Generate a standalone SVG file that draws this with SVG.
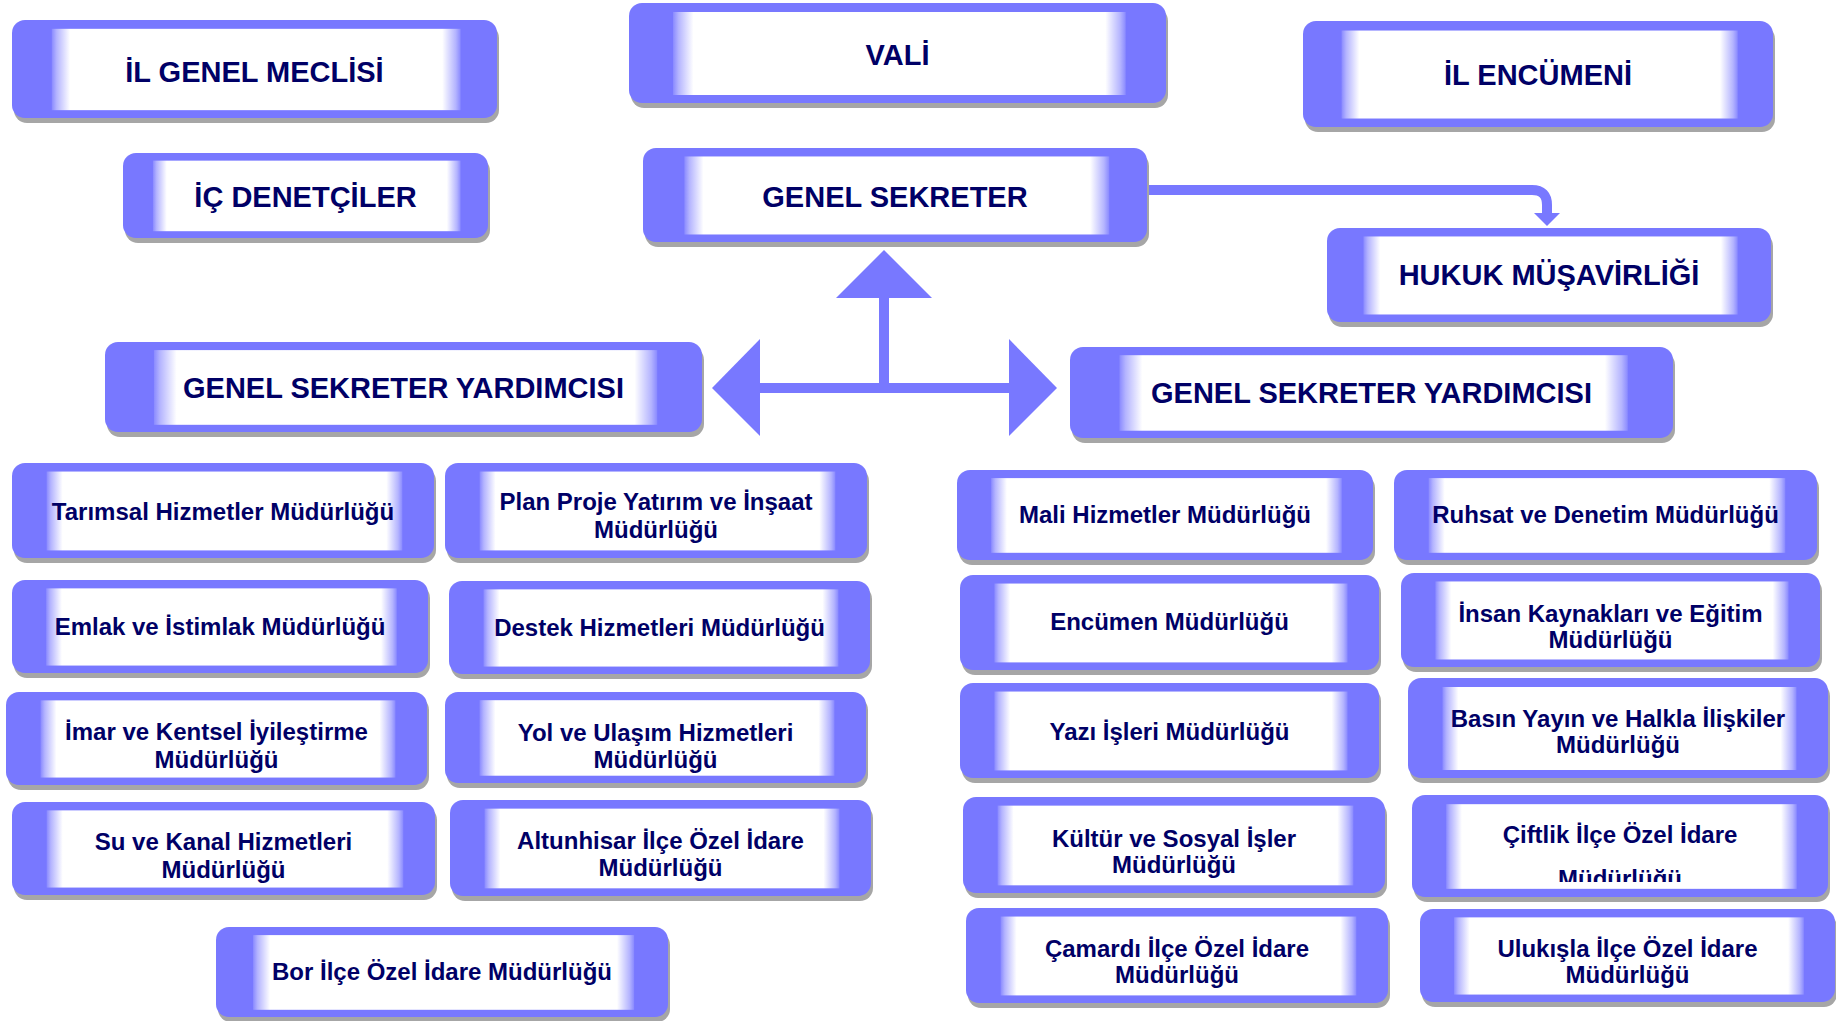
<svg xmlns="http://www.w3.org/2000/svg" width="1836" height="1021" viewBox="0 0 1836 1021">
<defs>
<style>
.sh{fill:#a6a6a6}
.bx{fill:#7878ff}
.in{fill:url(#wg)}
text{font-family:"Liberation Sans",Arial,sans-serif;font-weight:bold;fill:#000066;text-anchor:middle}
.t1{font-size:29px}
.t2{font-size:24px}
.conn{fill:#7878ff}
</style>
<linearGradient id="wg" x1="0" y1="0" x2="1" y2="0">
<stop offset="0" stop-color="#8a8aff"/>
<stop offset="0.012" stop-color="#b4b4ff"/>
<stop offset="0.045" stop-color="#ffffff"/>
<stop offset="0.955" stop-color="#ffffff"/>
<stop offset="0.988" stop-color="#b4b4ff"/>
<stop offset="1" stop-color="#8a8aff"/>
</linearGradient>
<clipPath id="cc"><rect x="0" y="0" width="416" height="87"/></clipPath>
</defs>

<g id="connectors">
<polygon class="conn" points="884,250 932,298 836,298"/>
<rect class="conn" x="879" y="296" width="10" height="97"/>
<rect class="conn" x="758" y="383" width="253" height="10"/>
<polygon class="conn" points="712,388 760,339 760,436"/>
<polygon class="conn" points="1057,388 1009,339 1009,436"/>
<path d="M1146,190 H1532 Q1547,190 1547,205 V214" fill="none" stroke="#7878ff" stroke-width="10"/>
<polygon class="conn" points="1534,213 1560,213 1547,226"/>
</g>

<g id="il-genel-meclisi"><svg x="12" y="20" width="485" height="98" overflow="visible">
<rect class="sh" x="2" y="5" width="100%" height="100%" rx="13"/><rect class="bx" width="100%" height="100%" rx="13"/>
<rect class="in" x="8.2%" y="9%" width="84.3%" height="83%"/>
<text class="t1" x="50%" y="62">İL GENEL MECLİSİ</text></svg></g>

<g id="vali"><svg x="629" y="3" width="537" height="100" overflow="visible">
<rect class="sh" x="2" y="5" width="100%" height="100%" rx="13"/><rect class="bx" width="100%" height="100%" rx="13"/>
<rect class="in" x="8.2%" y="9%" width="84.3%" height="83%"/>
<text class="t1" x="50%" y="62">VALİ</text></svg></g>

<g id="il-encumeni"><svg x="1303" y="21" width="470" height="106" overflow="visible">
<rect class="sh" x="2" y="5" width="100%" height="100%" rx="13"/><rect class="bx" width="100%" height="100%" rx="13"/>
<rect class="in" x="8.2%" y="9%" width="84.3%" height="83%"/>
<text class="t1" x="50%" y="64">İL ENCÜMENİ</text></svg></g>

<g id="ic-denetciler"><svg x="123" y="153" width="365" height="85" overflow="visible">
<rect class="sh" x="2" y="5" width="100%" height="100%" rx="13"/><rect class="bx" width="100%" height="100%" rx="13"/>
<rect class="in" x="8.2%" y="9%" width="84.3%" height="83%"/>
<text class="t1" x="50%" y="54">İÇ DENETÇİLER</text></svg></g>

<g id="genel-sekreter"><svg x="643" y="148" width="504" height="94" overflow="visible">
<rect class="sh" x="2" y="5" width="100%" height="100%" rx="13"/><rect class="bx" width="100%" height="100%" rx="13"/>
<rect class="in" x="8.2%" y="9%" width="84.3%" height="83%"/>
<text class="t1" x="50%" y="59">GENEL SEKRETER</text></svg></g>

<g id="hukuk-musavirligi"><svg x="1327" y="228" width="444" height="94" overflow="visible">
<rect class="sh" x="2" y="5" width="100%" height="100%" rx="13"/><rect class="bx" width="100%" height="100%" rx="13"/>
<rect class="in" x="8.2%" y="9%" width="84.3%" height="83%"/>
<text class="t1" x="50%" y="57">HUKUK MÜŞAVİRLİĞİ</text></svg></g>

<g id="gsy-left"><svg x="105" y="342" width="597" height="90" overflow="visible">
<rect class="sh" x="2" y="5" width="100%" height="100%" rx="13"/><rect class="bx" width="100%" height="100%" rx="13"/>
<rect class="in" x="8.2%" y="9%" width="84.3%" height="83%"/>
<text class="t1" x="50%" y="56">GENEL SEKRETER YARDIMCISI</text></svg></g>

<g id="gsy-right"><svg x="1070" y="347" width="603" height="91" overflow="visible">
<rect class="sh" x="2" y="5" width="100%" height="100%" rx="13"/><rect class="bx" width="100%" height="100%" rx="13"/>
<rect class="in" x="8.2%" y="9%" width="84.3%" height="83%"/>
<text class="t1" x="50%" y="56">GENEL SEKRETER YARDIMCISI</text></svg></g>

<g id="tarimsal"><svg x="12" y="463" width="422" height="95" overflow="visible">
<rect class="sh" x="2" y="5" width="100%" height="100%" rx="13"/><rect class="bx" width="100%" height="100%" rx="13"/>
<rect class="in" x="8.2%" y="9%" width="84.3%" height="83%"/>
<text class="t2" x="50%" y="57">Tarımsal Hizmetler Müdürlüğü</text></svg></g>

<g id="plan-proje"><svg x="445" y="463" width="422" height="95" overflow="visible">
<rect class="sh" x="2" y="5" width="100%" height="100%" rx="13"/><rect class="bx" width="100%" height="100%" rx="13"/>
<rect class="in" x="8.2%" y="9%" width="84.3%" height="83%"/>
<text class="t2" x="50%" y="47">Plan Proje Yatırım ve İnşaat</text><text class="t2" x="50%" y="75">Müdürlüğü</text></svg></g>

<g id="emlak"><svg x="12" y="580" width="416" height="93" overflow="visible">
<rect class="sh" x="2" y="5" width="100%" height="100%" rx="13"/><rect class="bx" width="100%" height="100%" rx="13"/>
<rect class="in" x="8.2%" y="9%" width="84.3%" height="83%"/>
<text class="t2" x="50%" y="55">Emlak ve İstimlak Müdürlüğü</text></svg></g>

<g id="destek"><svg x="449" y="581" width="421" height="93" overflow="visible">
<rect class="sh" x="2" y="5" width="100%" height="100%" rx="13"/><rect class="bx" width="100%" height="100%" rx="13"/>
<rect class="in" x="8.2%" y="9%" width="84.3%" height="83%"/>
<text class="t2" x="50%" y="55">Destek Hizmetleri Müdürlüğü</text></svg></g>

<g id="imar"><svg x="6" y="692" width="421" height="93" overflow="visible">
<rect class="sh" x="2" y="5" width="100%" height="100%" rx="13"/><rect class="bx" width="100%" height="100%" rx="13"/>
<rect class="in" x="8.2%" y="9%" width="84.3%" height="83%"/>
<text class="t2" x="50%" y="48">İmar ve Kentsel İyileştirme</text><text class="t2" x="50%" y="76">Müdürlüğü</text></svg></g>

<g id="yol"><svg x="445" y="692" width="421" height="91" overflow="visible">
<rect class="sh" x="2" y="5" width="100%" height="100%" rx="13"/><rect class="bx" width="100%" height="100%" rx="13"/>
<rect class="in" x="8.2%" y="9%" width="84.3%" height="83%"/>
<text class="t2" x="50%" y="49">Yol ve Ulaşım Hizmetleri</text><text class="t2" x="50%" y="76">Müdürlüğü</text></svg></g>

<g id="su-kanal"><svg x="12" y="802" width="423" height="93" overflow="visible">
<rect class="sh" x="2" y="5" width="100%" height="100%" rx="13"/><rect class="bx" width="100%" height="100%" rx="13"/>
<rect class="in" x="8.2%" y="9%" width="84.3%" height="83%"/>
<text class="t2" x="50%" y="48">Su ve Kanal Hizmetleri</text><text class="t2" x="50%" y="76">Müdürlüğü</text></svg></g>

<g id="altunhisar"><svg x="450" y="800" width="421" height="96" overflow="visible">
<rect class="sh" x="2" y="5" width="100%" height="100%" rx="13"/><rect class="bx" width="100%" height="100%" rx="13"/>
<rect class="in" x="8.2%" y="9%" width="84.3%" height="83%"/>
<text class="t2" x="50%" y="49">Altunhisar İlçe Özel İdare</text><text class="t2" x="50%" y="76">Müdürlüğü</text></svg></g>

<g id="bor"><svg x="216" y="927" width="452" height="90" overflow="visible">
<rect class="sh" x="2" y="5" width="100%" height="100%" rx="13"/><rect class="bx" width="100%" height="100%" rx="13"/>
<rect class="in" x="8.2%" y="9%" width="84.3%" height="83%"/>
<text class="t2" x="50%" y="53">Bor İlçe Özel İdare Müdürlüğü</text></svg></g>

<g id="mali"><svg x="957" y="470" width="416" height="90" overflow="visible">
<rect class="sh" x="2" y="5" width="100%" height="100%" rx="13"/><rect class="bx" width="100%" height="100%" rx="13"/>
<rect class="in" x="8.2%" y="9%" width="84.3%" height="83%"/>
<text class="t2" x="50%" y="53">Mali Hizmetler Müdürlüğü</text></svg></g>

<g id="ruhsat"><svg x="1394" y="470" width="423" height="90" overflow="visible">
<rect class="sh" x="2" y="5" width="100%" height="100%" rx="13"/><rect class="bx" width="100%" height="100%" rx="13"/>
<rect class="in" x="8.2%" y="9%" width="84.3%" height="83%"/>
<text class="t2" x="50%" y="53">Ruhsat ve Denetim Müdürlüğü</text></svg></g>

<g id="encumen"><svg x="960" y="575" width="419" height="95" overflow="visible">
<rect class="sh" x="2" y="5" width="100%" height="100%" rx="13"/><rect class="bx" width="100%" height="100%" rx="13"/>
<rect class="in" x="8.2%" y="9%" width="84.3%" height="83%"/>
<text class="t2" x="50%" y="55">Encümen Müdürlüğü</text></svg></g>

<g id="insan-kaynaklari"><svg x="1401" y="573" width="419" height="94" overflow="visible">
<rect class="sh" x="2" y="5" width="100%" height="100%" rx="13"/><rect class="bx" width="100%" height="100%" rx="13"/>
<rect class="in" x="8.2%" y="9%" width="84.3%" height="83%"/>
<text class="t2" x="50%" y="49">İnsan Kaynakları ve Eğitim</text><text class="t2" x="50%" y="75">Müdürlüğü</text></svg></g>

<g id="yazi-isleri"><svg x="960" y="683" width="419" height="95" overflow="visible">
<rect class="sh" x="2" y="5" width="100%" height="100%" rx="13"/><rect class="bx" width="100%" height="100%" rx="13"/>
<rect class="in" x="8.2%" y="9%" width="84.3%" height="83%"/>
<text class="t2" x="50%" y="57">Yazı İşleri Müdürlüğü</text></svg></g>

<g id="basin-yayin"><svg x="1408" y="678" width="420" height="100" overflow="visible">
<rect class="sh" x="2" y="5" width="100%" height="100%" rx="13"/><rect class="bx" width="100%" height="100%" rx="13"/>
<rect class="in" x="8.2%" y="9%" width="84.3%" height="83%"/>
<text class="t2" x="50%" y="49">Basın Yayın ve Halkla İlişkiler</text><text class="t2" x="50%" y="75">Müdürlüğü</text></svg></g>

<g id="kultur"><svg x="963" y="797" width="422" height="96" overflow="visible">
<rect class="sh" x="2" y="5" width="100%" height="100%" rx="13"/><rect class="bx" width="100%" height="100%" rx="13"/>
<rect class="in" x="8.2%" y="9%" width="84.3%" height="83%"/>
<text class="t2" x="50%" y="50">Kültür ve Sosyal İşler</text><text class="t2" x="50%" y="76">Müdürlüğü</text></svg></g>

<g id="ciftlik"><svg x="1412" y="795" width="416" height="102" overflow="visible">
<rect class="sh" x="2" y="5" width="100%" height="100%" rx="13"/><rect class="bx" width="100%" height="100%" rx="13"/>
<rect class="in" x="8.2%" y="9%" width="84.3%" height="83%"/>
<text class="t2" x="50%" y="48">Çiftlik İlçe Özel İdare</text><text class="t2" x="50%" y="92" clip-path="url(#cc)">Müdürlüğü</text></svg></g>

<g id="camardi"><svg x="966" y="908" width="422" height="95" overflow="visible">
<rect class="sh" x="2" y="5" width="100%" height="100%" rx="13"/><rect class="bx" width="100%" height="100%" rx="13"/>
<rect class="in" x="8.2%" y="9%" width="84.3%" height="83%"/>
<text class="t2" x="50%" y="49">Çamardı İlçe Özel İdare</text><text class="t2" x="50%" y="75">Müdürlüğü</text></svg></g>

<g id="ulukisla"><svg x="1420" y="909" width="415" height="93" overflow="visible">
<rect class="sh" x="2" y="5" width="100%" height="100%" rx="13"/><rect class="bx" width="100%" height="100%" rx="13"/>
<rect class="in" x="8.2%" y="9%" width="84.3%" height="83%"/>
<text class="t2" x="50%" y="48">Ulukışla İlçe Özel İdare</text><text class="t2" x="50%" y="74">Müdürlüğü</text></svg></g>
</svg>
